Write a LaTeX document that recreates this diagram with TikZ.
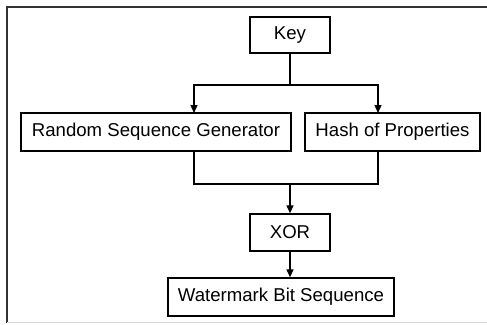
\documentclass[tikz,border=0pt]{standalone}
\usepackage{fontspec}
\setmainfont{Liberation Sans}
\usetikzlibrary{arrows.meta}
\begin{document}
\begin{tikzpicture}[x=1pt,y=-1pt,
  box/.style={draw=black,line width=1.4pt,fill=white,inner sep=0pt,
    font=\fontsize{18.6}{20}\selectfont},
  conn/.style={line width=1.3pt},
  arr/.style={conn,-{Triangle[length=8pt,width=7pt]}}]
\useasboundingbox (0,0) rectangle (487,324);
% outer frame
\draw[line width=1.6pt,black!80] (7,323) -- (7,7) -- (487,7);
\draw[line width=1.2pt,black!15] (7,322.5) -- (487,322.5);
% boxes
\node[box,minimum width=80pt,minimum height=36pt] (key) at (290,35) {Key};
\node[box,minimum width=270pt,minimum height=38pt] (rsg) at (156,132) {Random Sequence Generator};
\node[box,minimum width=175pt,minimum height=38pt] (hash) at (392.5,132) {Hash of Properties};
\node[box,minimum width=80pt,minimum height=37pt] (xor) at (290,232.5) {XOR};
\node[box,minimum width=226pt,minimum height=38pt] (wm) at (281,297) {Watermark Bit Sequence};
% connectors
\coordinate (j1) at (290,85);
\coordinate (a1) at (194,113);
\coordinate (a2) at (378,113);
\draw[conn] (key.south) -- (j1);
\draw[arr] (j1) -| (a1);
\draw[arr] (j1) -| (a2);
\coordinate (b1) at (194,151);
\coordinate (b2) at (378,151);
\coordinate (j2) at (290,184);
\draw[conn] (b1) |- (j2) -| (b2);
\draw[arr] (j2) -- (xor.north);
\draw[arr] (xor.south) -- (wm.north -| xor.south);
\end{tikzpicture}
\end{document}
